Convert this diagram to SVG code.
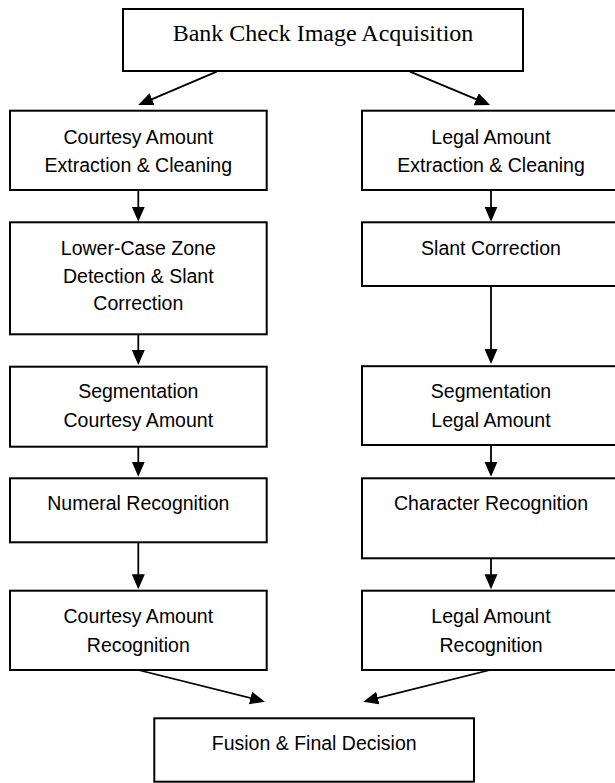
<svg xmlns="http://www.w3.org/2000/svg" width="615" height="783" viewBox="0 0 615 783">
<style>
.box{fill:#fff;stroke:#000;stroke-width:2}
.t{font-family:"Liberation Sans",Arial,sans-serif;font-size:19.5px;text-anchor:middle;fill:#000}
.ts{font-family:"Liberation Serif","Times New Roman",serif;font-size:24px;text-anchor:middle;fill:#000}
.c{stroke:#000;stroke-width:1.8;fill:none;marker-end:url(#ah)}
</style>
<defs>
<marker id="ah" markerUnits="userSpaceOnUse" markerWidth="16" markerHeight="14" refX="12" refY="6.5" orient="auto">
<path d="M0,0 L15,6.5 L0,13 Z" fill="#000"/>
</marker>
</defs>
<rect width="615" height="783" fill="#fff"/>
<g id="connectors">
<line class="c" x1="216.7" y1="71.7" x2="141" y2="103.8"/>
<line class="c" x1="410" y1="71.7" x2="487.3" y2="103.8"/>
<line class="c" x1="138.3" y1="190" x2="138.3" y2="218.7"/>
<line class="c" x1="138.3" y1="334.3" x2="138.3" y2="362"/>
<line class="c" x1="138.3" y1="446.7" x2="138.3" y2="473.7"/>
<line class="c" x1="138.3" y1="542.3" x2="138.3" y2="586.3"/>
<line class="c" x1="491" y1="190" x2="491" y2="218.7"/>
<line class="c" x1="491" y1="286" x2="491" y2="361"/>
<line class="c" x1="491" y1="445" x2="491" y2="473.7"/>
<line class="c" x1="491" y1="558.3" x2="491" y2="586.3"/>
<line class="c" x1="138.3" y1="670" x2="262.1" y2="700.9"/>
<line class="c" x1="490" y1="670" x2="366.2" y2="700.9"/>
</g>
<g id="n-acq"><rect class="box" x="123" y="9" width="400" height="62"/><text class="ts" x="323" y="40.7">Bank Check Image Acquisition</text></g>
<g id="n-ca-ext"><rect class="box" x="10" y="110.7" width="256.7" height="79.3"/><text class="t" x="138.3" y="144">Courtesy Amount</text><text class="t" x="138.3" y="171.7">Extraction &amp; Cleaning</text></g>
<g id="n-la-ext"><rect class="box" x="362" y="110.7" width="258" height="79.3"/><text class="t" x="491" y="144">Legal Amount</text><text class="t" x="491" y="171.7">Extraction &amp; Cleaning</text></g>
<g id="n-lcz"><rect class="box" x="10" y="222.3" width="256.7" height="112"/><text class="t" x="138.3" y="255">Lower-Case Zone</text><text class="t" x="138.3" y="282.5">Detection &amp; Slant</text><text class="t" x="138.3" y="309.5">Correction</text></g>
<g id="n-slant"><rect class="box" x="362" y="222.3" width="258" height="63.7"/><text class="t" x="491" y="255">Slant Correction</text></g>
<g id="n-seg-ca"><rect class="box" x="10" y="366.7" width="256.7" height="80"/><text class="t" x="138.3" y="398.3">Segmentation</text><text class="t" x="138.3" y="426.7">Courtesy Amount</text></g>
<g id="n-seg-la"><rect class="box" x="362" y="366.2" width="258" height="78.8"/><text class="t" x="491" y="398.3">Segmentation</text><text class="t" x="491" y="426.7">Legal Amount</text></g>
<g id="n-num"><rect class="box" x="10" y="478.3" width="256.7" height="64"/><text class="t" x="138.3" y="510">Numeral Recognition</text></g>
<g id="n-char"><rect class="box" x="362" y="478.3" width="258" height="80"/><text class="t" x="491" y="510">Character Recognition</text></g>
<g id="n-ca-rec"><rect class="box" x="10" y="590.7" width="256.7" height="79.3"/><text class="t" x="138.3" y="623.3">Courtesy Amount</text><text class="t" x="138.3" y="651.7">Recognition</text></g>
<g id="n-la-rec"><rect class="box" x="362" y="590.7" width="258" height="79.3"/><text class="t" x="491" y="623.3">Legal Amount</text><text class="t" x="491" y="651.7">Recognition</text></g>
<g id="n-fusion"><rect class="box" x="154.3" y="718.3" width="319.7" height="63.4"/><text class="t" x="314.2" y="750">Fusion &amp; Final Decision</text></g>
</svg>
